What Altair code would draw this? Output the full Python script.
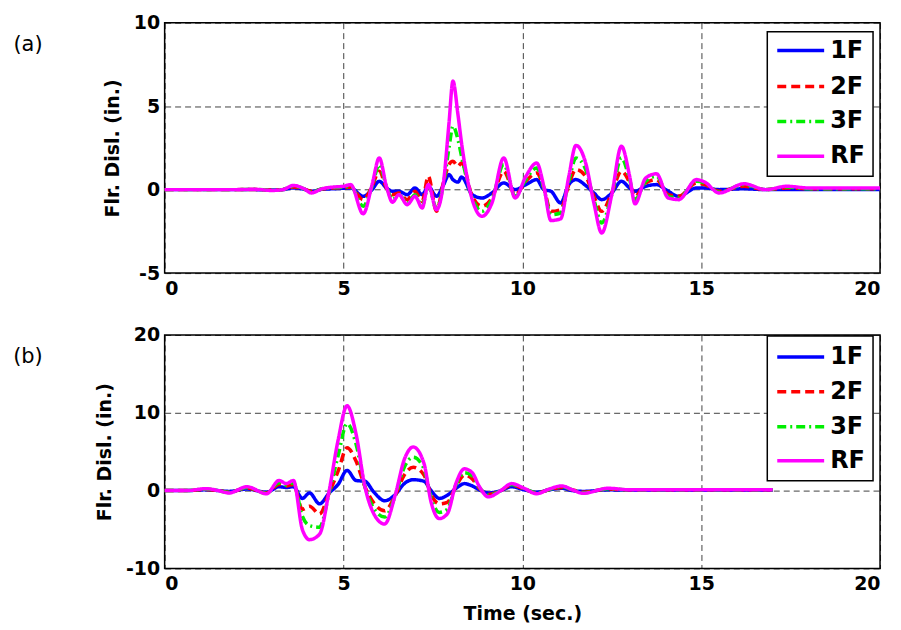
import altair as alt
import pandas as pd

series = ["1F", "2F", "3F", "RF"]
colors = ["#0000ff", "#ff0000", "#00ee00", "#ff00ff"]
dashes = [[1, 0], [9, 5], [9, 4, 2, 4], [1, 0]]
panel_labels = ["(a)", "(b)"]

# Panel (a)
tA = [0, 1, 2, 2.5, 3,
      3.3, 3.6, 3.9, 4.1, 4.4,
      4.7, 5.0, 5.2, 5.55, 5.8,
      6.0, 6.2, 6.37, 6.55, 6.78,
      7.0, 7.2, 7.37, 7.6, 7.8,
      7.95, 8.06, 8.2, 8.3, 8.6,
      8.87, 9.15, 9.48, 9.8, 10.1,
      10.4, 10.6, 10.8, 11.07, 11.3,
      11.5, 11.77, 12.0, 12.22, 12.5,
      12.77, 13.0, 13.15, 13.45, 13.75,
      14.08, 14.37, 14.87, 15.1, 15.5,
      16.2, 16.8, 17.4, 18, 19,
      20]
a_RF = [0, 0, 0, 0.02, -0.05,
        0, 0.25, 0.05, -0.2, 0.05,
        0.15, 0.2, 0.3, -1.45, 0.3,
        1.9, 0.2, -0.75, -0.3, -0.9,
        -0.4, -1.1, 0.3, -1.2, 0.5,
        4.0, 6.5, 4.5, 2.8, -0.6,
        -1.6, -0.8, 1.9, -0.5, 0.8,
        1.6, 0.2, -1.85, -1.75, 0.8,
        2.65, 1.6, -0.8, -2.6, -0.3,
        2.6, 0.8, -0.85, 0.7, 0.95,
        -0.5, -0.6, 0.6, 0.45, -0.2,
        0.35, 0.0, 0.2, 0.1, 0.1,
        0.1]
a_3F = [0, 0, 0, 0.02, -0.04,
        0, 0.2, 0.05, -0.15, 0.05,
        0.12, 0.15, 0.2, -1.0, 0.2,
        1.5, 0.2, -0.6, -0.3, -0.8,
        -0.3, -1.0, 0.2, -1.1, 0.4,
        2.5, 3.8, 3.0, 2.0, -0.5,
        -1.3, -0.6, 1.5, -0.4, 0.6,
        1.3, 0.1, -1.5, -1.4, 0.5,
        1.9, 1.2, -0.6, -2.0, -0.3,
        1.9, 0.6, -0.6, 0.5, 0.8,
        -0.4, -0.5, 0.5, 0.4, -0.15,
        0.3, 0.0, 0.15, 0.05, 0.05,
        0.05]
a_2F = [0, 0, 0, 0.01, -0.03,
        0, 0.15, 0.03, -0.1, 0.03,
        0.1, 0.12, 0.15, -0.6, 0.2,
        1.1, 0.1, -0.3, -0.2, -0.6,
        -0.1, -0.7, 0.8, -1.3, 0.5,
        1.5, 1.7, 1.4, 1.6, -0.4,
        -1.0, -0.5, 1.1, -0.3, 0.5,
        1.0, 0.1, -1.3, -1.2, 0.3,
        1.2, 0.8, -0.4, -1.3, -0.2,
        1.1, 0.4, -0.4, 0.4, 0.6,
        -0.3, -0.4, 0.4, 0.3, -0.1,
        0.2, 0.0, 0.1, 0.05, 0.05,
        0.05]
a_1F = [0, 0, 0, 0, -0.02,
        0, 0.1, 0.02, -0.1, 0.02,
        0.05, 0.08, 0.1, -0.4, 0.0,
        0.5, 0.1, -0.1, -0.1, -0.3,
        0.1, -0.3, 0.2, -0.4, 0.3,
        0.9, 0.6, 0.45, 0.75, -0.3,
        -0.5, -0.2, 0.4, 0.0, 0.3,
        0.6, 0.0, -0.1, -0.8, 0.3,
        0.6, 0.25, -0.2, -0.6, -0.2,
        0.5, 0.1, -0.1, 0.2, 0.3,
        -0.1, -0.4, 0.1, 0.1, 0.0,
        0.05, 0.0, 0.0, 0.0, 0.0,
        0.0]

# Panel (b)
tB = [0, 0.6, 1.17, 1.5, 1.8,
      2.3, 2.85, 3.2, 3.4, 3.6,
      3.85, 4.05, 4.33, 4.6, 4.85,
      5.1, 5.35, 5.6, 5.85, 6.15,
      6.45, 6.7, 6.95, 7.25, 7.45,
      7.68, 7.9, 8.15, 8.38, 8.6,
      8.8, 9.05, 9.4, 9.7, 10.05,
      10.4, 10.75, 11.1, 11.4, 11.7,
      12.4, 13, 14, 15, 16,
      17]
b_RF = [0, 0, 0.25, 0, -0.3,
        0.5, -0.4, 1.3, 0.9, 1.3,
        -5.0, -6.3, -5.6, 0.0, 6.5,
        10.9, 7.3, 0.5, -3.0, -4.3,
        -0.5, 4.0, 5.6, 3.5, -1.5,
        -3.6, -3.0, 1.0, 2.8, 2.3,
        0.5, -0.8, 0.0, 0.9, 0.3,
        -0.4, 0.2, 0.6, 0.1, -0.35,
        0.3, 0.1, 0.1, 0.1, 0.1,
        0.1]
b_3F = [0, 0, 0.2, 0, -0.25,
        0.4, -0.35, 1.0, 0.7, 1.0,
        -3.3, -4.5, -4.7, -0.3, 4.5,
        8.6, 6.0, 0.5, -2.3, -3.4,
        -0.6, 3.0, 4.3, 2.8, -1.0,
        -2.8, -2.4, 0.8, 2.3, 1.9,
        0.4, -0.6, 0.0, 0.8, 0.25,
        -0.3, 0.15, 0.5, 0.1, -0.3,
        0.25, 0.1, 0.1, 0.1, 0.1,
        0.1]
b_2F = [0, 0, 0.15, 0, -0.2,
        0.35, -0.3, 0.8, 0.6, 0.8,
        -2.4, -2.0, -3.0, -0.3, 2.5,
        5.5, 3.8, 0.5, -1.6, -2.6,
        -0.6, 2.0, 3.0, 2.0, -0.5,
        -1.7, -1.5, 0.6, 2.0, 1.5,
        0.3, -0.5, 0.0, 0.7, 0.2,
        -0.3, 0.1, 0.4, 0.1, -0.2,
        0.2, 0.1, 0.1, 0.1, 0.1,
        0.1]
b_1F = [0, 0, 0.1, 0, -0.1,
        0.2, -0.2, 0.5, 0.4, 0.5,
        -1.0, -0.3, -1.7, -0.3, 0.8,
        2.6, 1.3, 1.2, -0.2, -1.3,
        -0.5, 0.9, 1.4, 1.2, 0.0,
        -1.0, -0.6, 0.3, 0.9, 0.6,
        0.1, -0.3, 0.0, 0.5, 0.1,
        -0.2, 0.1, 0.3, 0.0, -0.1,
        0.1, 0.05, 0.05, 0.05, 0.05,
        0.05]


def long_df(t, cols):
    rows = []
    for name, vals in zip(series, cols):
        for ti, v in zip(t, vals):
            rows.append({"t": ti, "y": v, "s": name})
    return pd.DataFrame(rows)


dfA = long_df(tA, [a_1F, a_2F, a_3F, a_RF])
dfB = long_df(tB, [b_1F, b_2F, b_3F, b_RF])

FONT = "DejaVu Sans"
W = 717
NEG_LABEL = "datum.value < 0 ? '-' + abs(datum.value) : '' + datum.value"

color_scale = alt.Scale(domain=series, range=colors)
dash_scale = alt.Scale(domain=series, range=dashes)


def panel(df, ydom, yvals, height, box_top, row_ys, label, show_xtitle):
    lines = alt.Chart(df).mark_line(strokeWidth=3.5, interpolate="monotone").encode(
        x=alt.X("t:Q", scale=alt.Scale(domain=[0, 20], nice=False),
                axis=alt.Axis(values=[0, 5, 10, 15, 20],
                              title="Time (sec.)" if show_xtitle else None)),
        y=alt.Y("y:Q", scale=alt.Scale(domain=ydom, nice=False),
                axis=alt.Axis(values=yvals, title="Flr. Disl. (in.)", labelExpr=NEG_LABEL)),
        color=alt.Color("s:N", scale=color_scale, legend=None),
        strokeDash=alt.StrokeDash("s:N", scale=dash_scale, legend=None),
    )
    # legend (drawn inside the plot, top-right)
    box = alt.Chart(pd.DataFrame({"k": [0]})).mark_rect(
        fill="white", stroke="black", strokeWidth=1.5
    ).encode(x=alt.value(604), x2=alt.value(710),
             y=alt.value(box_top), y2=alt.value(box_top + 145))
    leg_df = pd.DataFrame({"s": series, "ly": row_ys})
    sym = alt.Chart(leg_df).mark_rule(strokeWidth=3.5).encode(
        x=alt.value(614), x2=alt.value(661),
        y=alt.Y("ly:Q", scale=None, axis=None),
        color=alt.Color("s:N", scale=color_scale, legend=None),
        strokeDash=alt.StrokeDash("s:N", scale=dash_scale, legend=None),
    )
    txt = alt.Chart(leg_df).mark_text(
        font=FONT, fontSize=24, fontWeight="bold", color="black",
        align="left", baseline="middle", dx=0
    ).encode(x=alt.value(667), y=alt.Y("ly:Q", scale=None, axis=None), text="s:N")
    lab = alt.Chart(pd.DataFrame({"lab": [label]})).mark_text(
        font=FONT, fontSize=21, color="black", align="center", baseline="middle"
    ).encode(text="lab:N", x=alt.value(-137), y=alt.value(22))
    return alt.layer(lines, box, sym, txt, lab).properties(width=W, height=height)


pA = panel(dfA, [-5, 10], [-5, 0, 5, 10], 251, 9, [28, 64, 99, 134], panel_labels[0], False)
pB = panel(dfB, [-10, 20], [-10, 0, 10, 20], 234, 1, [22, 57, 92, 126], panel_labels[1], True)

chart = alt.vconcat(pA, pB, spacing=26).properties(
    padding={"left": 4, "top": 4, "right": 5, "bottom": 2}
).configure_view(
    stroke="black", strokeWidth=1.5
).configure_axis(
    labelFont=FONT, labelFontSize=19, labelFontWeight="bold", labelColor="black",
    titleFont=FONT, titleFontSize=19, titleFontWeight="bold", titleColor="black",
    grid=True, gridColor="#000000", gridDash=[6, 4], gridOpacity=0.75, gridWidth=1,
    ticks=False, domain=False, labelPadding=6, titlePadding=11,
).configure_axisY(
    labelPadding=5
)

chart.save("out.html", embed_options={"renderer": "svg", "actions": False})
